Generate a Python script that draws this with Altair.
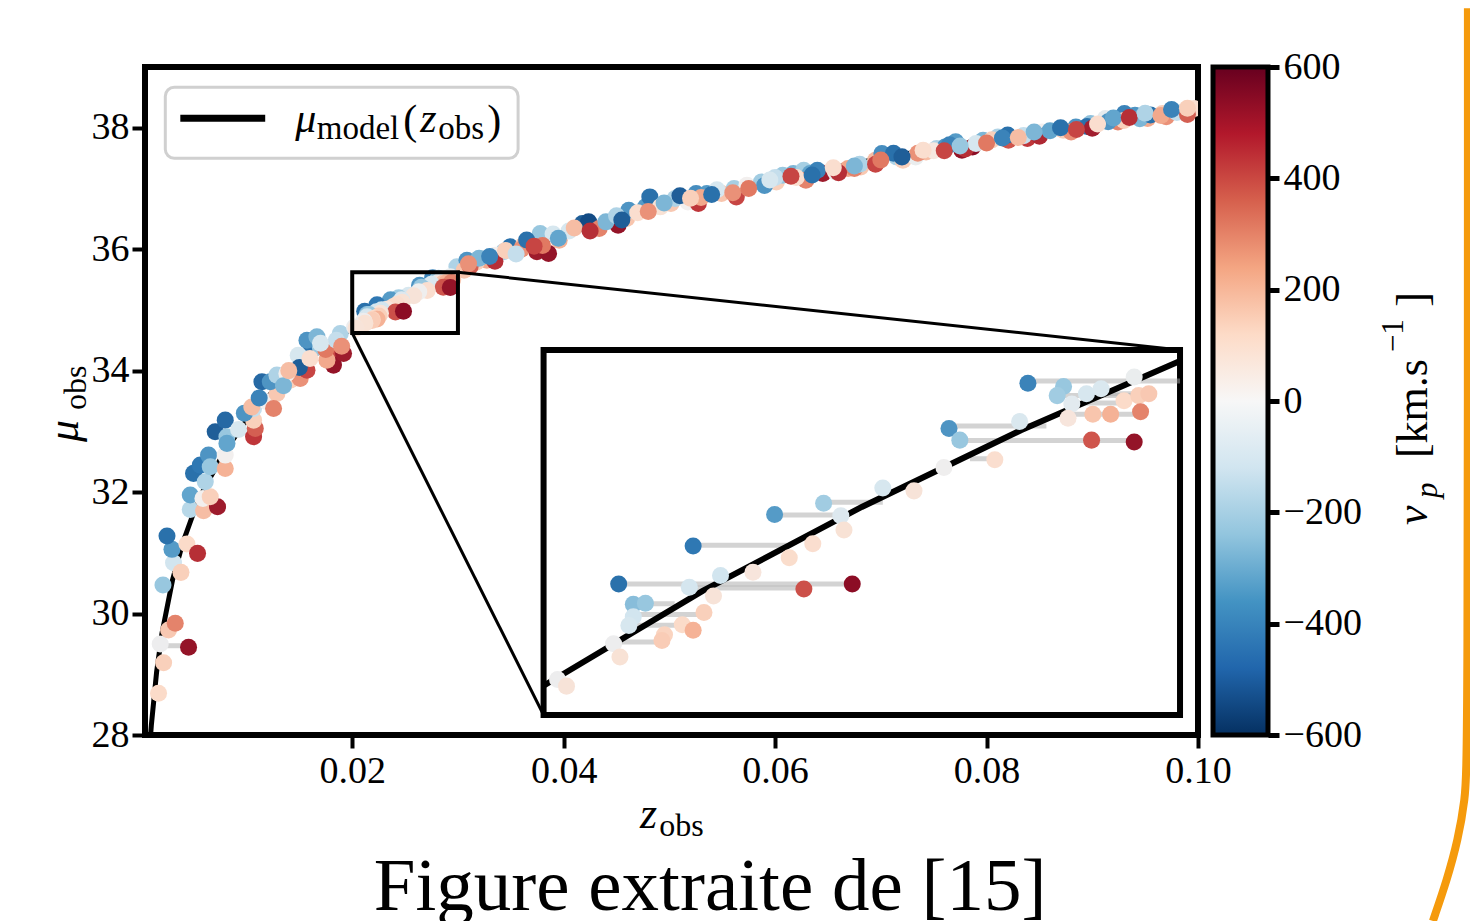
import altair as alt
import pandas as pd

# ---------------- data ----------------
# model curve mu_model(z)
MODEL_Z = [0.0009, 0.001, 0.0015, 0.002, 0.003, 0.004, 0.005, 0.006, 0.008, 0.010, 0.0125,
           0.015, 0.0175, 0.02, 0.0225, 0.025, 0.0275, 0.03, 0.035, 0.04, 0.05, 0.06,
           0.07, 0.08, 0.09, 0.10]
MODEL_MU = [27.93, 28.16, 29.04, 29.67, 30.55, 31.18, 31.66, 32.06, 32.69, 33.18, 33.66,
            34.06, 34.40, 34.70, 34.96, 35.19, 35.40, 35.59, 35.94, 36.24, 36.74, 37.15,
            37.50, 37.80, 38.08, 38.32]

# supernovae outside the zoomed window: z_obs, mu_obs, v_p
MAIN_Z = [0.00168, 0.00216, 0.00452, 0.00184, 0.00263, 0.00326, 0.00210, 0.00310, 0.00380, 0.00295,
          0.00248, 0.00437, 0.00537, 0.00468, 0.00468, 0.00594, 0.00588, 0.00726, 0.00657, 0.00499,
          0.00563, 0.00641, 0.00610, 0.00657, 0.00799, 0.00799, 0.00704, 0.00799, 0.00815, 0.00925,
          0.00815, 0.01067, 0.01083, 0.01067, 0.01067, 0.01193, 0.01288, 0.01256, 0.01146, 0.01225,
          0.01288, 0.01414, 0.01508, 0.01382, 0.01572, 0.01634, 0.01603, 0.01697, 0.01808, 0.01823,
          0.01761, 0.01572, 0.01666, 0.01887, 0.01918, 0.01489, 0.02990, 0.03085, 0.03274, 0.03173,
          0.03431, 0.03494, 0.03620, 0.03714, 0.03747, 0.03352, 0.03059, 0.03116, 0.03778, 0.03958,
          0.03857, 0.04177, 0.04236, 0.04336, 0.04515, 0.04596, 0.04616, 0.04775, 0.04815, 0.04915,
          0.05015, 0.05054, 0.05175, 0.05253, 0.05354, 0.05274, 0.05493, 0.05633, 0.05612, 0.05733,
          0.05872, 0.06012, 0.06072, 0.06172, 0.06271, 0.06331, 0.06451, 0.06291, 0.06571, 0.06690,
          0.06810, 0.06750, 0.06949, 0.07010, 0.07149, 0.07209, 0.07329, 0.07428, 0.07528, 0.07608,
          0.07708, 0.07767, 0.07868, 0.07967, 0.08107, 0.08207, 0.08386, 0.08525, 0.08725, 0.08845,
          0.08984, 0.09124, 0.09243, 0.09304, 0.09404, 0.09523, 0.09664, 0.09764, 0.09883, 0.09962,
          0.03200, 0.03350, 0.03600, 0.03650, 0.03900, 0.03800, 0.04050, 0.04400, 0.04500, 0.04700,
          0.05100, 0.05300, 0.05450, 0.05600, 0.05900, 0.06000, 0.06200, 0.06400, 0.06600, 0.06800,
          0.06950, 0.07120, 0.07350, 0.07500, 0.07650, 0.07800, 0.07900, 0.08050, 0.08200, 0.08350,
          0.08500, 0.08600, 0.08800, 0.08950, 0.09000, 0.09150, 0.09300, 0.09450, 0.09550, 0.09700,
          0.09800, 0.09900, 0.00980, 0.01050, 0.01350, 0.01500, 0.01600, 0.01750, 0.01850,
          0.03100, 0.03300, 0.03450, 0.03550, 0.03720, 0.03950, 0.04100, 0.04250, 0.04550, 0.04800,
          0.04950, 0.05200, 0.05400, 0.05750, 0.05950, 0.06150, 0.06350, 0.06550, 0.06750, 0.07000,
          0.07200, 0.07400, 0.07600, 0.07750, 0.08000, 0.08150, 0.08300, 0.08450, 0.08700, 0.08850,
          0.09050, 0.09200, 0.09350, 0.09500, 0.09650, 0.09750, 0.09900, 0.01120, 0.01400, 0.01700,
          0.01900]
MAIN_MU = [28.686, 29.190, 29.444, 29.498, 29.728, 29.839, 30.469, 30.836, 30.678, 31.057,
           31.276, 31.144, 30.991, 31.715, 31.951, 31.692, 31.896, 31.758, 31.923, 32.308,
           32.444, 32.609, 32.170, 32.417, 32.390, 32.609, 32.993, 33.185, 32.910, 33.032,
           32.802, 32.910, 33.049, 33.185, 33.378, 33.487, 33.625, 33.378, 33.816, 33.816,
           33.926, 33.844, 33.872, 33.954, 34.008, 34.366, 34.448, 34.392, 34.255, 34.091,
           34.173, 34.502, 34.557, 34.612, 34.283, 34.255, 35.709, 35.819, 35.819, 35.786,
           35.956, 36.038, 36.066, 36.120, 35.956, 35.901, 35.654, 35.720, 36.259, 36.148,
           35.930, 36.423, 36.450, 36.341, 36.395, 36.505, 36.642, 36.697, 36.861, 36.697,
           36.752, 36.835, 36.779, 36.917, 36.917, 36.752, 36.917, 36.861, 36.999, 37.054,
           37.108, 37.108, 37.218, 37.246, 37.300, 37.246, 37.246, 37.136, 37.273, 37.328,
           37.355, 37.328, 37.465, 37.575, 37.520, 37.465, 37.520, 37.602, 37.658, 37.684,
           37.767, 37.630, 37.684, 37.794, 37.849, 37.794, 37.822, 37.931, 37.959, 38.013,
           38.069, 38.152, 38.096, 38.234, 38.206, 38.152, 38.234, 38.261, 38.289, 38.316,
           35.850, 35.800, 36.000, 36.150, 36.250, 36.060, 36.300, 36.450, 36.550, 36.600,
           36.880, 36.850, 36.980, 36.930, 37.050, 37.180, 37.180, 37.300, 37.260, 37.400,
           37.400, 37.580, 37.580, 37.620, 37.720, 37.650, 37.740, 37.800, 37.880, 37.870,
           37.860, 37.950, 37.930, 38.020, 37.990, 38.100, 38.120, 38.150, 38.210, 38.180,
           38.250, 38.220, 33.300, 33.400, 33.750, 34.050, 34.200, 34.350, 34.500,
           35.760, 35.880, 35.980, 35.920, 36.050, 36.180, 36.350, 36.300, 36.480, 36.620,
           36.760, 36.840, 36.900, 37.000, 37.140, 37.200, 37.220, 37.340, 37.370, 37.470,
           37.520, 37.630, 37.620, 37.700, 37.750, 37.830, 37.840, 37.930, 38.000, 37.970,
           38.060, 38.160, 38.170, 38.240, 38.200, 38.300, 38.320, 33.550, 34.000, 34.450,
           34.400]
MAIN_V = [120, 150, 580, -20, 170, 330, -250, -120, 150, -380,
          -500, 120, 500, -180, -350, 200, 0, 560, 150, -500,
          -480, -400, -200, -250, 230, 0, -550, -520, -250, -100,
          -350, 480, 400, 150, -150, 0, 170, 330, -520, -400,
          -200, 150, 300, 0, 450, -250, -500, -250, 450, 580,
          250, -400, -300, -200, 560, -100, -200, -400, 250, 150,
          -200, -500, 200, -250, 560, 0, 180, 400, -250, 230,
          580, -550, -600, 330, 580, 180, -400, -380, -500, 80,
          170, -200, 0, -420, -380, 480, 180, 450, -220, 0,
          -230, 150, -250, -300, -220, -350, 560, 330, -30, 250,
          170, 330, 200, -420, -200, 150, -30, 200, -200, -400,
          -380, 580, 600, -300, -200, 420, 480, 0, 150, -400,
          -270, -50, 330, -450, -400, 250, 150, 200, 50, 100,
          -300, 500, 300, -500, -100, 350, -100, -300, -200, 100,
          -550, 250, -100, 300, -400, -150, 100, -450, 500, -200,
          450, -500, 300, 50, -450, 500, -100, 150, -500, -150,
          520, -350, 300, -500, 550, -400, 150, -300, -500, 300,
          -150, 400, -400, 200, -300, -550, 100, 350, -150,
          300, -450, 150, -150, 450, -350, 200, 500, -550, 300,
          -300, 150, -500, 350, -100, 450, -500, 100, -300, 350,
          -550, 100, 450, -250, 350, -450, 200, -300, -500, 450,
          100, -350, 500, -200, 250, -450, 150, -450, 200, -100,
          300]

# supernovae inside the zoomed window [0.02, 0.03] x [34.62, 35.62]
INSET_Z = [0.02761, 0.02817, 0.02807, 0.02853, 0.02876, 0.02928, 0.02830, 0.02912, 0.02935, 0.02951,
           0.02824, 0.02863, 0.02891, 0.02938, 0.02637, 0.02748, 0.02654, 0.02861, 0.02928, 0.02709,
           0.02629, 0.02533, 0.02582, 0.02440, 0.02363, 0.02467, 0.02472, 0.02423, 0.02235, 0.02386,
           0.02329, 0.02278, 0.02118, 0.02229, 0.02409, 0.02485, 0.02267, 0.02141, 0.02160, 0.02252,
           0.02141, 0.02134, 0.02218, 0.02235, 0.02190, 0.02186, 0.02110, 0.02120, 0.02022, 0.02036]
INSET_MU = [35.529, 35.520, 35.495, 35.500, 35.514, 35.546, 35.472, 35.481, 35.495, 35.500,
            35.433, 35.444, 35.444, 35.451, 35.405, 35.424, 35.373, 35.373, 35.368, 35.319,
            35.298, 35.242, 35.234, 35.200, 35.169, 35.166, 35.127, 35.089, 35.083, 35.051,
            35.011, 35.002, 34.979, 34.970, 34.965, 34.979, 34.946, 34.923, 34.926, 34.901,
            34.889, 34.865, 34.867, 34.852, 34.840, 34.824, 34.815, 34.779, 34.717, 34.699]
INSET_V = [-450, -250, -230, -100, -90, -30, -60, 120, 150, 170,
           60, 180, 230, 330, -400, -90, -250, 420, 580, 100,
           -10, -100, 70, -230, -380, -80, 80, 100, -480, 110,
           60, -120, -500, -110, 430, 600, 70, -280, -250, 150,
           -120, -100, 120, 230, 140, 160, -20, 80, -20, 70]

# grey horizontal links (same mu_obs)
SEG_Z1 = [0.02761, 0.02807, 0.02853, 0.02830, 0.02824, 0.02637, 0.02654, 0.02670, 0.02440, 0.02363,
          0.02235, 0.02118, 0.02229, 0.02141, 0.02141, 0.02134, 0.02110, 0.00184]
SEG_Z2 = [0.03000, 0.02935, 0.02951, 0.02912, 0.02938, 0.02790, 0.02928, 0.02709, 0.02533, 0.02467,
          0.02382, 0.02485, 0.02409, 0.02206, 0.02252, 0.02218, 0.02186, 0.00452]
SEG_MU = [35.535, 35.495, 35.500, 35.475, 35.444, 35.412, 35.372, 35.322, 35.203, 35.168,
          35.085, 34.979, 34.968, 34.925, 34.895, 34.866, 34.820, 29.470]

V_TICKS = [-600, -400, -200, 0, 200, 400, 600]
X_TICKS = [0.02, 0.04, 0.06, 0.08, 0.10]
Y_TICKS = [28, 30, 32, 34, 36, 38]
RDBU = ['#053061', '#2166ac', '#4393c3', '#92c5de', '#d1e5f0', '#f7f7f7',
        '#fddbc7', '#f4a582', '#d6604d', '#b2182b', '#67001f']

# ---------------- layout constants ----------------
ZOOM_Z = (0.02, 0.03)
ZOOM_MU = (34.62, 35.62)
BOX_Z = (0.0381, 0.0983)
BOX_MU = (28.33, 34.34)
KX = (BOX_Z[1] - BOX_Z[0]) / (ZOOM_Z[1] - ZOOM_Z[0])
KY = (BOX_MU[1] - BOX_MU[0]) / (ZOOM_MU[1] - ZOOM_MU[0])
FONT = 'Liberation Serif'
PT = 290
# slide frame decoration (orange rounded border at the right)
FRAME_Z = [0.12553, 0.12553, 0.12525, 0.12459, 0.12355, 0.12222]
FRAME_MU = [39.967, 27.588, 26.930, 26.272, 25.613, 24.938]

model = pd.DataFrame({'z': MODEL_Z, 'mu': MODEL_MU})
main_pts = pd.DataFrame({'z': MAIN_Z, 'mu': MAIN_MU, 'v': MAIN_V})
inset_pts = pd.DataFrame({'z': INSET_Z, 'mu': INSET_MU, 'v': INSET_V})
all_pts = pd.concat([main_pts, inset_pts], ignore_index=True)
segs = pd.DataFrame({'z': SEG_Z1, 'z2': SEG_Z2, 'mu': SEG_MU})

xs = alt.Scale(domain=[0.0004, 0.1], nice=False, zero=False)
ys = alt.Scale(domain=[28, 39], nice=False, zero=False)
xaxis = alt.Axis(values=X_TICKS, format='.2f', title=None, grid=False, domain=False,
                 tickSize=13, tickWidth=4, tickColor='black', labelFont=FONT, labelFontSize=38,
                 labelColor='black', labelPadding=4, labelFlush=False)
yaxis = alt.Axis(values=Y_TICKS, format='d', title=None, grid=False, domain=False,
                 tickSize=13, tickWidth=4, tickColor='black', labelFont=FONT, labelFontSize=38,
                 labelColor='black', labelPadding=3)


def X(f):
    return alt.X(f, type='quantitative', scale=xs, axis=xaxis)


def Y(f):
    return alt.Y(f, type='quantitative', scale=ys, axis=yaxis)


color = alt.Color('v:Q', scale=alt.Scale(scheme='redblue', reverse=True, domain=[-600, 600]),
                  legend=None)

inset_x = f"{BOX_Z[0]} + (datum.z - {ZOOM_Z[0]}) * {KX}"
inset_x2 = f"{BOX_Z[0]} + (datum.z2 - {ZOOM_Z[0]}) * {KX}"
inset_y = f"{BOX_MU[0]} + (datum.mu - {ZOOM_MU[0]}) * {KY}"

# main panel
l_model = alt.Chart(model).mark_line(color='black', strokeWidth=5, clip=True).encode(x=X('z'), y=Y('mu'))
l_segs = alt.Chart(segs).mark_rule(color='#a8a8a8', opacity=0.5, strokeWidth=5, clip=True).encode(
    x=X('z'), x2=alt.X2('z2'), y=Y('mu'))
l_pts = alt.Chart(all_pts).mark_circle(size=PT, opacity=1, clip=True).encode(x=X('z'), y=Y('mu'), color=color)

zoom_df = pd.DataFrame({'z': [ZOOM_Z[0]], 'z2': [ZOOM_Z[1]], 'mu': [ZOOM_MU[0]], 'mu2': [ZOOM_MU[1]]})
l_zoom = alt.Chart(zoom_df).mark_rect(fill='white', fillOpacity=0, stroke='black', strokeWidth=4).encode(
    x=X('z'), x2=alt.X2('z2'), y=Y('mu'), y2=alt.Y2('mu2'))
conn_df = pd.DataFrame({'z': [ZOOM_Z[1], ZOOM_Z[0]], 'z2': [BOX_Z[1], BOX_Z[0]],
                        'mu': [ZOOM_MU[1], ZOOM_MU[0]], 'mu2': [BOX_MU[1], BOX_MU[0]]})
l_conn = alt.Chart(conn_df).mark_rule(color='black', strokeWidth=3).encode(
    x=X('z'), x2=alt.X2('z2'), y=Y('mu'), y2=alt.Y2('mu2'))
box_df = pd.DataFrame({'z': [BOX_Z[0]], 'z2': [BOX_Z[1]], 'mu': [BOX_MU[0]], 'mu2': [BOX_MU[1]]})
l_box = alt.Chart(box_df).mark_rect(fill='white', stroke='black', strokeWidth=6).encode(
    x=X('z'), x2=alt.X2('z2'), y=Y('mu'), y2=alt.Y2('mu2'))

# inset content
i_segs = alt.Chart(segs).transform_filter(f"datum.z >= {ZOOM_Z[0]}").transform_calculate(
    zi=inset_x, zi2=inset_x2, mi=inset_y).mark_rule(color='#a8a8a8', opacity=0.5, strokeWidth=5).encode(
    x=X('zi'), x2=alt.X2('zi2'), y=Y('mi'))
i_model = alt.Chart(model).transform_filter(
    f"datum.z >= {ZOOM_Z[0]} && datum.z <= {ZOOM_Z[1]}").transform_calculate(
    zi=inset_x, mi=inset_y).mark_line(color='black', strokeWidth=6).encode(x=X('zi'), y=Y('mi'))
i_pts = alt.Chart(inset_pts).transform_calculate(zi=inset_x, mi=inset_y).mark_circle(
    size=PT, opacity=1).encode(x=X('zi'), y=Y('mi'), color=color)

# legend
leg_df = pd.DataFrame({'z': [0.00232], 'z2': [0.03569], 'mu': [37.498], 'mu2': [38.667]})
l_legbox = alt.Chart(leg_df).mark_rect(fill='white', stroke='#d0d0d0', strokeWidth=3, cornerRadius=9).encode(
    x=X('z'), x2=alt.X2('z2'), y=Y('mu'), y2=alt.Y2('mu2'))
legline_df = pd.DataFrame({'z': [0.00374], 'z2': [0.01177], 'mu': [38.156]})
l_legline = alt.Chart(legline_df).mark_rule(color='black', strokeWidth=7).encode(
    x=X('z'), x2=alt.X2('z2'), y=Y('mu'))

# text pieces (math italic / upright)
ital = pd.DataFrame({
    't': ['μ', 'z', 'z', 'μ', 'v', 'p'],
    'z': [0.01461, 0.02643, 0.04723, -0.00591, 0.12165, 0.12260],
    'mu': [37.926, 37.926, 26.469, 32.823, 31.457, 31.901],
    's': [42, 42, 44, 44, 44, 31],
    'a': [0, 0, 0, 270, 270, 270]})
upr = pd.DataFrame({
    't': ['model', '(', 'obs', ')', 'obs', 'obs', '[km.s', '−1', ']'],
    'z': [0.01665, 0.02482, 0.02813, 0.03277, 0.04903, -0.00515, 0.12165, 0.11938, 0.12165],
    'mu': [37.811, 37.893, 37.811, 37.893, 26.337, 33.350, 32.560, 34.305, 35.050],
    's': [33, 42, 33, 42, 32, 32, 44, 31, 44],
    'a': [0, 0, 0, 0, 0, 270, 270, 270, 270]})


def texts(df, style):
    return alt.Chart(df).mark_text(align='left', baseline='alphabetic', font=FONT, fontStyle=style,
                                   color='black').encode(
        x=X('z'), y=Y('mu'), text='t:N',
        size=alt.Size('s:Q', scale=None, legend=None),
        angle=alt.Angle('a:Q', scale=None))


l_ital = texts(ital, 'italic')
l_upr = texts(upr, 'normal')
cap_df = pd.DataFrame({'t': ['Figure extraite de [15]'], 'z': [0.05385], 'mu': [25.119]})
l_cap = alt.Chart(cap_df).mark_text(align='center', baseline='alphabetic', font=FONT, fontSize=75,
                                    color='black').encode(x=X('z'), y=Y('mu'), text='t:N')

frame_df = pd.DataFrame({'z': FRAME_Z, 'mu': FRAME_MU, 'i': list(range(len(FRAME_Z)))})
l_frame = alt.Chart(frame_df).mark_line(color='#f59a0c', strokeWidth=8, interpolate='basis').encode(
    x=X('z'), y=Y('mu'), order='i:Q')

main = alt.layer(l_model, l_segs, l_pts, l_zoom, l_conn, l_box, i_segs, i_model, i_pts,
                 l_legbox, l_legline, l_ital, l_upr, l_cap, l_frame)

# colour bar
cb_df = pd.DataFrame({'z': [0.10142], 'z2': [0.10662], 'v1': [V_TICKS[0]], 'v2': [V_TICKS[-1]]})
grad = alt.Gradient(gradient='linear',
                    stops=[alt.GradientStop(color=c, offset=i / (len(RDBU) - 1)) for i, c in enumerate(RDBU)],
                    x1=0, x2=0, y1=1, y2=0)
cb_axis = alt.Axis(orient='right', offset=70, values=V_TICKS, format='d', title=None, grid=False,
                   domain=False, tickSize=11, tickWidth=5, tickColor='black', labelFont=FONT,
                   labelFontSize=38, labelColor='black', labelPadding=4)
l_cb = alt.Chart(cb_df).mark_rect(fill=grad, stroke='black', strokeWidth=5).encode(
    x=X('z'), x2=alt.X2('z2'),
    y=alt.Y('v1:Q', scale=alt.Scale(domain=[-600, 600], nice=False, zero=False), axis=cb_axis),
    y2=alt.Y2('v2'))

chart = alt.layer(main, l_cb).resolve_scale(y='independent').properties(
    width=1053, height=668,
    autosize=alt.AutoSizeParams(type='none'),
    padding={'left': 137, 'top': 59, 'right': 272, 'bottom': 186},
    background='white',
).configure_view(stroke='black', strokeWidth=6)

chart.save('out.html', embed_options={'renderer': 'svg', 'actions': False})
